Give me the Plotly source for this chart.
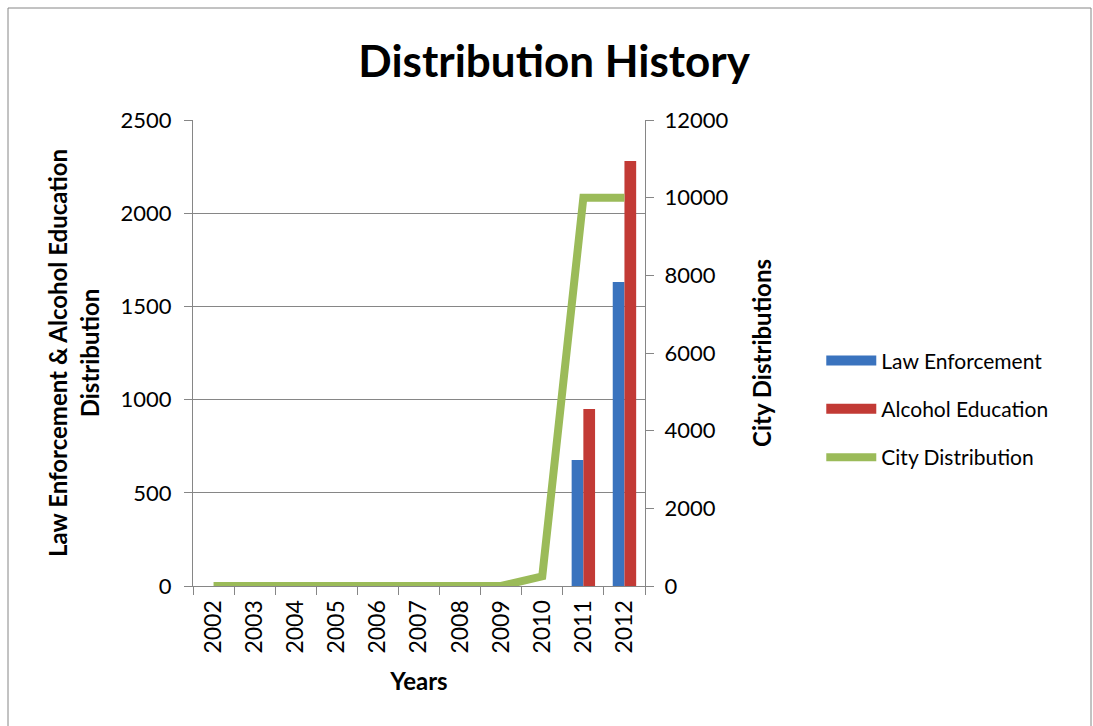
import plotly.graph_objects as go

years = ["2002", "2003", "2004", "2005", "2006", "2007", "2008", "2009", "2010", "2011", "2012"]
law_enforcement = [None, None, None, None, None, None, None, None, None, 676, 1631]
alcohol_education = [None, None, None, None, None, None, None, None, None, 950, 2280]
city_distribution = [0, 0, 0, 0, 0, 0, 0, 0, 250, 10000, 10000]

FONT = "Lato"
BLUE = "#3A73BE"
RED = "#C23A35"
GREEN = "#9BBB59"

fig = go.Figure()
fig.add_trace(go.Bar(x=years, y=law_enforcement, name="Law Enforcement", showlegend=False,
                     marker=dict(color=BLUE, line=dict(width=0))))
fig.add_trace(go.Bar(x=years, y=alcohol_education, name="Alcohol Education", showlegend=False,
                     marker=dict(color=RED, line=dict(width=0))))
fig.add_trace(go.Scatter(x=years, y=city_distribution, name="City Distribution", yaxis="y2",
                         mode="lines", line=dict(color=GREEN, width=8), showlegend=False))
# legend entries (Excel-style wide swatches)
fig.add_trace(go.Scatter(x=[None], y=[None], name="Law Enforcement", mode="lines",
                         line=dict(color=BLUE, width=14), legendgroup="a"))
fig.add_trace(go.Scatter(x=[None], y=[None], name="Alcohol Education", mode="lines",
                         line=dict(color=RED, width=14), legendgroup="b"))
fig.add_trace(go.Scatter(x=[None], y=[None], name="City Distribution", mode="lines", yaxis="y2",
                         line=dict(color=GREEN, width=8), legendgroup="c"))

fig.update_layout(
    width=1093, height=726,
    margin=dict(l=193, r=448, t=120, b=140),
    paper_bgcolor="white", plot_bgcolor="white",
    font=dict(family=FONT, color="black", size=21),
    title=dict(text="<b>Distribution History</b>", x=0.507, xanchor="center", y=0.915, yanchor="middle",
               font=dict(size=44, family=FONT, color="black")),
    barmode="group", bargap=0.43, bargroupgap=0,
    showlegend=True,
    legend=dict(x=1.39, y=0.38, xanchor="left", yanchor="middle", font=dict(size=21, family=FONT),
                tracegroupgap=18, itemwidth=50, bgcolor="rgba(0,0,0,0)"),
    xaxis=dict(type="category", tickangle=-90, tickson="boundaries", ticks="outside", ticklen=8,
               tickcolor="#868686", showline=True, linecolor="#868686", linewidth=1,
               showgrid=False, tickfont=dict(size=23), ticklabelstandoff=4,
               title=dict(text="<b>Years</b>", font=dict(size=24), standoff=20)),
    yaxis=dict(range=[0, 2500], dtick=500, ticks="outside", ticklen=8, tickcolor="#868686",
               showline=True, linecolor="#868686", showgrid=True, gridcolor="#868686", gridwidth=1,
               tickfont=dict(size=22), zeroline=False, ticklabelstandoff=8,
               title=dict(text="<b>Law Enforcement & Alcohol Education<br>Distribution</b>",
                          font=dict(size=24), standoff=14)),
    yaxis2=dict(range=[0, 12000], dtick=2000, tickformat="d", overlaying="y", side="right",
                ticks="outside", ticklen=8, tickcolor="#868686", showline=True, linecolor="#868686",
                showgrid=False, zeroline=False, tickfont=dict(size=22), ticklabelstandoff=6,
                title=dict(text="<b>City Distributions</b>", font=dict(size=24), standoff=26)),
)

fig.add_shape(type="rect", xref="paper", yref="paper",
              x0=(8 - 193) / 452, x1=(1091 - 193) / 452, y0=(586 - 740) / 466, y1=(586 - 8) / 466,
              line=dict(color="#868686", width=1), fillcolor="rgba(0,0,0,0)", layer="below")

fig.write_html("out.html")
